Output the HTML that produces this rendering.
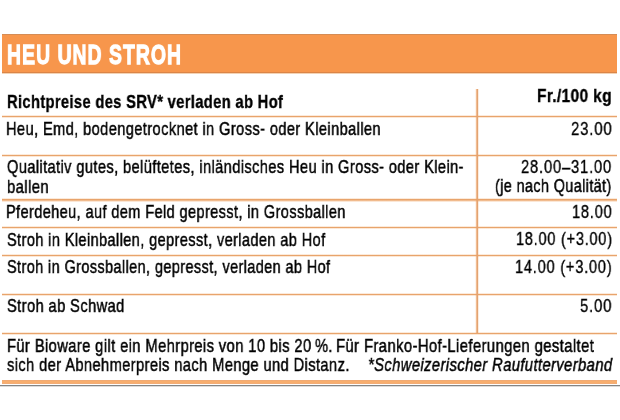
<!DOCTYPE html>
<html><head><meta charset="utf-8"><style>
html,body{margin:0;padding:0;}
body{width:620px;height:420px;background:#fff;position:relative;overflow:hidden;font-family:"Liberation Sans",sans-serif;}
.t{position:absolute;white-space:nowrap;transform-origin:0 0;will-change:transform;}
.bar{position:absolute;left:2px;top:34px;width:615px;height:40px;background:linear-gradient(#D58C55 0 1px,#F7964C 1px 38px,#DB8547 38px 39px,#F3D3B5 39px 40px);}
.hl{position:absolute;left:2px;width:615px;height:3px;background:linear-gradient(rgba(240,160,90,.22) 0 1px,#E8A46C 1px 2px,rgba(240,160,90,.25) 2px 3px);}
.hl2{position:absolute;left:2px;width:615px;height:4px;background:linear-gradient(rgba(240,160,90,.22) 0 1px,#E8A46C 1px 2px,rgba(236,164,104,.75) 2px 3px,rgba(240,160,90,.25) 3px 4px);}
.vl{position:absolute;left:475px;top:89px;width:4px;height:244px;background:linear-gradient(90deg,rgba(240,160,90,.12) 0 1px,rgba(236,160,100,.7) 1px 2px,#E2A372 2px 3px,rgba(240,160,90,.2) 3px 4px);}
.thick{position:absolute;left:2px;top:380px;width:615px;height:4px;background:linear-gradient(#F0AA74 0 1px,#F8AE6E 1px 3px,#F2AC76 3px 4px);}
.gray{position:absolute;left:0;top:385px;width:620px;height:2px;background:linear-gradient(#858585 0 1px,#DCDCDC 1px 2px);}
</style></head><body>
<div class="bar"></div>
<div class="hl" style="top:115px"></div>
<div class="hl" style="top:154px"></div>
<div class="hl" style="top:226px"></div>
<div class="hl" style="top:254px"></div>
<div class="hl" style="top:293px"></div>
<div class="hl" style="top:332px"></div>
<div class="hl2" style="top:198px"></div>
<div class="vl"></div>
<div class="thick"></div>
<div class="gray"></div>
<span class="t" style="left:7.13px;top:41.00px;font-size:28px;line-height:28px;font-weight:700;font-style:normal;color:#fff;-webkit-text-stroke:1.3px #fff;letter-spacing:1.5px;transform:scaleX(0.6927)">HEU UND STROH</span>
<span class="t" style="left:6.80px;top:93.35px;font-size:18.5px;line-height:18.5px;font-weight:700;font-style:normal;color:#000;-webkit-text-stroke:0.35px #000;letter-spacing:0.4px;transform:scaleX(0.7980)">Richtpreise des SRV* verladen ab Hof</span>
<span class="t" style="left:537.46px;top:86.85px;font-size:18.5px;line-height:18.5px;font-weight:700;font-style:normal;color:#000;-webkit-text-stroke:0.35px #000;letter-spacing:0.4px;transform:scaleX(0.8380)">Fr./100 kg</span>
<span class="t" style="left:6.31px;top:119.55px;font-size:18.5px;line-height:18.5px;font-weight:400;font-style:normal;color:#000;-webkit-text-stroke:0.48px #000;letter-spacing:0.5px;transform:scaleX(0.7905)">Heu, Emd, bodengetrocknet in Gross- oder Kleinballen</span>
<span class="t" style="left:570.99px;top:119.55px;font-size:18.5px;line-height:18.5px;font-weight:400;font-style:normal;color:#000;-webkit-text-stroke:0.35px #000;letter-spacing:1.0px;transform:scaleX(0.8102)">23.00</span>
<span class="t" style="left:6.81px;top:157.95px;font-size:18.5px;line-height:18.5px;font-weight:400;font-style:normal;color:#000;-webkit-text-stroke:0.48px #000;letter-spacing:0.5px;transform:scaleX(0.7905)">Qualitativ gutes, belüftetes, inländisches Heu in Gross- oder Klein-</span>
<span class="t" style="left:6.60px;top:177.65px;font-size:18.5px;line-height:18.5px;font-weight:400;font-style:normal;color:#000;-webkit-text-stroke:0.48px #000;letter-spacing:0.5px;transform:scaleX(0.8040)">ballen</span>
<span class="t" style="left:521.10px;top:158.15px;font-size:18.5px;line-height:18.5px;font-weight:400;font-style:normal;color:#000;-webkit-text-stroke:0.35px #000;letter-spacing:1.0px;transform:scaleX(0.8000)">28.00–31.00</span>
<span class="t" style="left:495.42px;top:177.25px;font-size:18.5px;line-height:18.5px;font-weight:400;font-style:normal;color:#000;-webkit-text-stroke:0.48px #000;letter-spacing:0.5px;transform:scaleX(0.7783)">(je nach Qualität)</span>
<span class="t" style="left:6.42px;top:203.05px;font-size:18.5px;line-height:18.5px;font-weight:400;font-style:normal;color:#000;-webkit-text-stroke:0.48px #000;letter-spacing:0.5px;transform:scaleX(0.7860)">Pferdeheu, auf dem Feld gepresst, in Grossballen</span>
<span class="t" style="left:572.01px;top:203.45px;font-size:18.5px;line-height:18.5px;font-weight:400;font-style:normal;color:#000;-webkit-text-stroke:0.35px #000;letter-spacing:1.0px;transform:scaleX(0.7897)">18.00</span>
<span class="t" style="left:6.51px;top:230.55px;font-size:18.5px;line-height:18.5px;font-weight:400;font-style:normal;color:#000;-webkit-text-stroke:0.48px #000;letter-spacing:0.5px;transform:scaleX(0.7864)">Stroh in Kleinballen, gepresst, verladen ab Hof</span>
<span class="t" style="left:516.02px;top:230.45px;font-size:18.5px;line-height:18.5px;font-weight:400;font-style:normal;color:#000;-webkit-text-stroke:0.35px #000;letter-spacing:1.0px;transform:scaleX(0.7834)">18.00 (+3.00)</span>
<span class="t" style="left:6.61px;top:258.35px;font-size:18.5px;line-height:18.5px;font-weight:400;font-style:normal;color:#000;-webkit-text-stroke:0.48px #000;letter-spacing:0.5px;transform:scaleX(0.7828)">Stroh in Grossballen, gepresst, verladen ab Hof</span>
<span class="t" style="left:515.41px;top:258.35px;font-size:18.5px;line-height:18.5px;font-weight:400;font-style:normal;color:#000;-webkit-text-stroke:0.35px #000;letter-spacing:1.0px;transform:scaleX(0.7884)">14.00 (+3.00)</span>
<span class="t" style="left:6.60px;top:297.35px;font-size:18.5px;line-height:18.5px;font-weight:400;font-style:normal;color:#000;-webkit-text-stroke:0.48px #000;letter-spacing:0.5px;transform:scaleX(0.7932)">Stroh ab Schwad</span>
<span class="t" style="left:580.40px;top:297.35px;font-size:18.5px;line-height:18.5px;font-weight:400;font-style:normal;color:#000;-webkit-text-stroke:0.35px #000;letter-spacing:1.0px;transform:scaleX(0.8053)">5.00</span>
<span class="t" style="left:6.51px;top:336.85px;font-size:18.5px;line-height:18.5px;font-weight:400;font-style:normal;color:#000;-webkit-text-stroke:0.48px #000;letter-spacing:0.5px;transform:scaleX(0.7953)">Für Bioware gilt ein Mehrpreis von 10 bis 20&#8201;%.</span>
<span class="t" style="left:336.10px;top:336.85px;font-size:18.5px;line-height:18.5px;font-weight:400;font-style:normal;color:#000;-webkit-text-stroke:0.48px #000;letter-spacing:0.5px;transform:scaleX(0.8009)">Für Franko-Hof-Lieferungen gestaltet</span>
<span class="t" style="left:7.30px;top:355.95px;font-size:18.5px;line-height:18.5px;font-weight:400;font-style:normal;color:#000;-webkit-text-stroke:0.48px #000;letter-spacing:0.5px;transform:scaleX(0.7928)">sich der Abnehmerpreis nach Menge und Distanz.</span>
<span class="t" style="left:367.80px;top:356.00px;font-size:18.5px;line-height:18.5px;font-weight:400;font-style:italic;color:#000;-webkit-text-stroke:0.48px #000;letter-spacing:0.5px;transform:scaleX(0.7977)">*Schweizerischer Raufutterverband</span>
</body></html>
